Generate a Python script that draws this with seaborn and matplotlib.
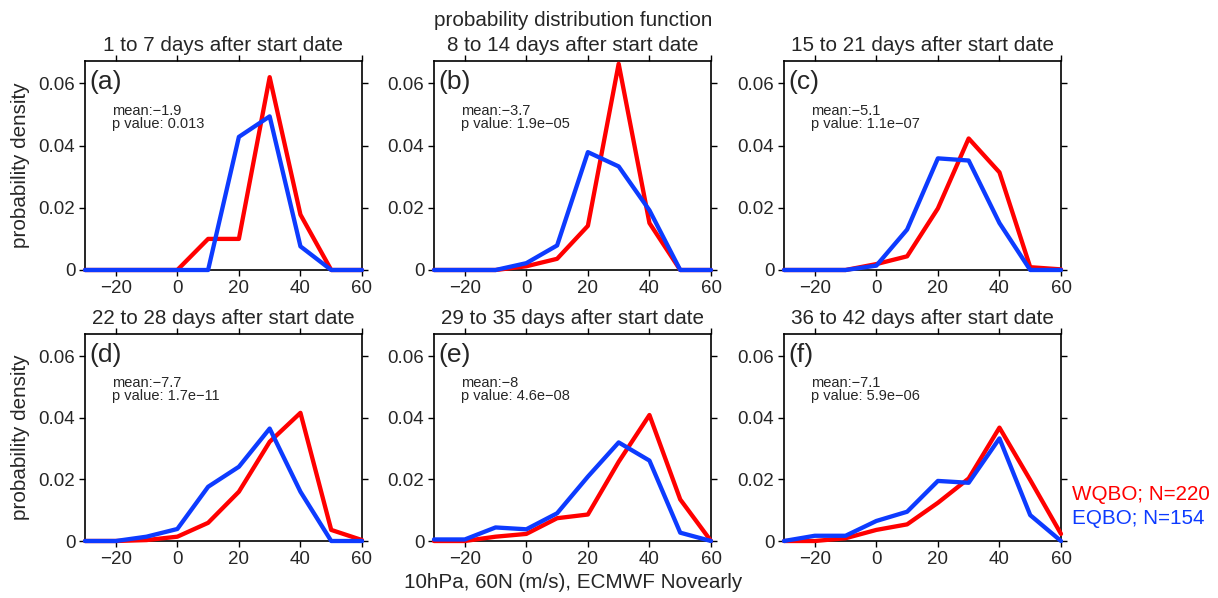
import numpy as np
import pandas as pd
import matplotlib
matplotlib.use("Agg")
import matplotlib.pyplot as plt
import seaborn as sns

sns.set_style("ticks")
plt.rcParams['font.family'] = ['Liberation Sans', 'DejaVu Sans']
plt.rcParams['axes.unicode_minus'] = True

# ---- data ----
wind_bins = [-30, -20, -10, 0, 10, 20, 30, 40, 50, 60]
panel_titles = ["1 to 7 days after start date", "8 to 14 days after start date",
                "15 to 21 days after start date", "22 to 28 days after start date",
                "29 to 35 days after start date", "36 to 42 days after start date"]
panel_letters = ["(a)", "(b)", "(c)", "(d)", "(e)", "(f)"]
mean_labels = ["mean:\u22121.9", "mean:\u22123.7", "mean:\u22125.1",
               "mean:\u22127.7", "mean:\u22128", "mean:\u22127.1"]
pvalue_labels = ["p value: 0.013", "p value: 1.9e\u221205", "p value: 1.1e\u221207",
                 "p value: 1.7e\u221211", "p value: 4.6e\u221208", "p value: 5.9e\u221206"]

wqbo_a = [0, 0, 0, 0, 0.0100, 0.0100, 0.0620, 0.0178, 0, 0]
eqbo_a = [0, 0, 0, 0, 0, 0.0428, 0.0494, 0.0076, 0, 0]
wqbo_b = [0, 0, 0, 0.0012, 0.0036, 0.0142, 0.0663, 0.0151, 0, 0]
eqbo_b = [0, 0, 0, 0.0022, 0.0079, 0.0379, 0.0333, 0.0192, 0, 0]
wqbo_c = [0, 0, 0, 0.0019, 0.0044, 0.0198, 0.0423, 0.0314, 0.0009, 0.0002]
eqbo_c = [0, 0, 0, 0.0014, 0.0130, 0.0359, 0.0352, 0.0151, 0, 0]
wqbo_d = [0, 0, 0.0003, 0.0014, 0.0059, 0.0160, 0.0322, 0.0416, 0.0036, 0.0003]
eqbo_d = [0, 0, 0.0014, 0.0039, 0.0176, 0.0241, 0.0365, 0.0160, 0, 0]
wqbo_e = [0, 0, 0.0014, 0.0023, 0.0074, 0.0086, 0.0257, 0.0409, 0.0135, 0]
eqbo_e = [0.0005, 0.0005, 0.0044, 0.0038, 0.0090, 0.0209, 0.0320, 0.0261, 0.0027, 0]
wqbo_f = [0, 0, 0.0009, 0.0036, 0.0054, 0.0124, 0.0203, 0.0368, 0.0198, 0.0023]
eqbo_f = [0, 0.0017, 0.0017, 0.0065, 0.0095, 0.0195, 0.0189, 0.0333, 0.0084, 0]

wqbo_all = [wqbo_a, wqbo_b, wqbo_c, wqbo_d, wqbo_e, wqbo_f]
eqbo_all = [eqbo_a, eqbo_b, eqbo_c, eqbo_d, eqbo_e, eqbo_f]

series_names = ["WQBO; N=220", "EQBO; N=154"]
RED = "#ff0000"
BLUE = "#0d3bff"
TXT = "#262626"
FS = 14.9

fig = plt.figure(figsize=(12.18, 5.98), dpi=100)
W, H = 1218, 598
lefts = [85, 434, 784]
aw = 277
rows = [(61, 270), (334, 541)]

for i in range(6):
    r, c = divmod(i, 3)
    top, bot = rows[r]
    ax = fig.add_axes([lefts[c] / W, 1 - bot / H, aw / W, (bot - top) / H])
    df = pd.DataFrame({
        "wind": wind_bins * 2,
        "density": wqbo_all[i] + eqbo_all[i],
        "group": [series_names[0]] * len(wind_bins) + [series_names[1]] * len(wind_bins),
    })
    sns.lineplot(data=df, x="wind", y="density", hue="group",
                 palette={series_names[0]: RED, series_names[1]: BLUE},
                 linewidth=3.1, legend=False, ax=ax, clip_on=False, zorder=5)
    ax.set_xlim(-30, 60)
    ax.set_ylim(0, 0.0672)
    ax.set_xticks([-20, 0, 20, 40, 60])
    ax.set_yticks([0, 0.02, 0.04, 0.06])
    ax.set_yticklabels(["0", "0.02", "0.04", "0.06"])
    ax.tick_params(direction="out", length=4, width=1.0, colors="black",
                   labelcolor=TXT, labelsize=13.5, top=True, right=True,
                   labeltop=False, labelright=False, pad=3)
    for s in ax.spines.values():
        s.set_visible(True)
        s.set_linewidth(1.2)
        s.set_color("black")
    ax.set_xlabel("")
    ax.set_ylabel("probability density" if c == 0 else "", fontsize=FS, color=TXT, labelpad=6)
    ax.set_title(panel_titles[i], fontsize=FS, color=TXT, pad=7)
    ax.text(0.014, 0.90, panel_letters[i], transform=ax.transAxes, fontsize=19,
            color=TXT, va="center", ha="left")
    ax.text(0.097, 0.762, mean_labels[i], transform=ax.transAxes, fontsize=10.5,
            color=TXT, va="center", ha="left")
    ax.text(0.097, 0.700, pvalue_labels[i], transform=ax.transAxes, fontsize=10.5,
            color=TXT, va="center", ha="left")

fig.text(573 / W, 1 - 20 / H, "probability distribution function", fontsize=FS,
         color=TXT, ha="center", va="center")
fig.text(573 / W, 1 - 583 / H, "10hPa, 60N (m/s), ECMWF Novearly", fontsize=FS,
         color=TXT, ha="center", va="center")
fig.text(1072 / W, 1 - 495 / H, series_names[0], fontsize=FS, color=RED,
         ha="left", va="center")
fig.text(1072 / W, 1 - 518 / H, series_names[1], fontsize=FS, color=BLUE,
         ha="left", va="center")

fig.savefig("out.png", dpi=100)
